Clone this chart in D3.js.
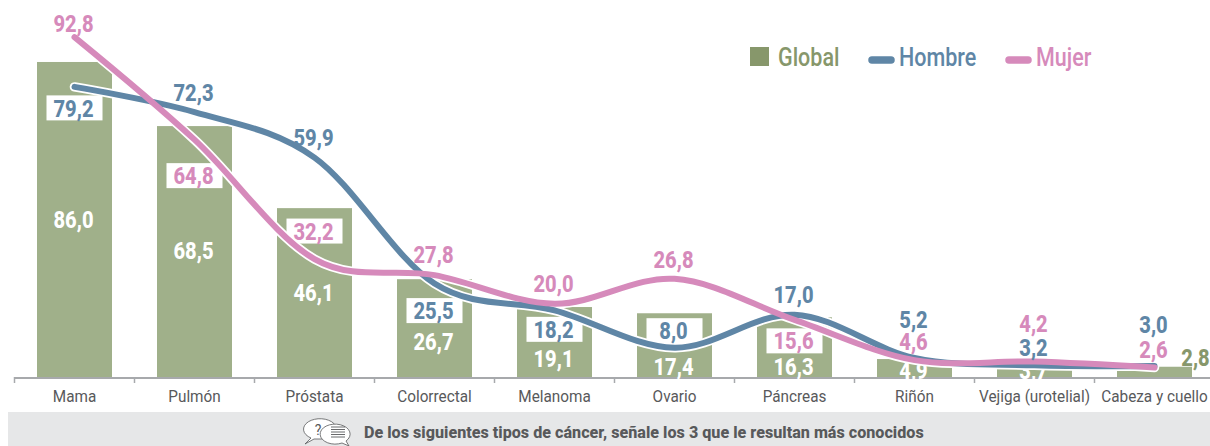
<!DOCTYPE html>
<html><head><meta charset="utf-8">
<script src="https://cdnjs.cloudflare.com/ajax/libs/d3/7.8.5/d3.min.js"></script>
<style>html,body{margin:0;padding:0;background:#fff}svg{display:block}text{font-family:Roboto,sans-serif}</style>
</head><body><svg id="c" width="1210" height="446"></svg>
<script>
const categories=["Mama","Pulmón","Próstata","Colorrectal","Melanoma","Ovario","Páncreas","Riñón","Vejiga (urotelial)","Cabeza y cuello"];
const globalValues=[86.0,68.5,46.1,26.7,19.1,17.4,16.3,4.9,3.7,2.8];
const hombreValues=[79.2,72.3,59.9,25.5,18.2,8.0,17.0,5.2,3.2,3.0];
const mujerValues=[92.8,64.8,32.2,27.8,20.0,26.8,15.6,4.6,4.2,2.6];
const globalLabelDy=[157,124,84,62,51,53,49,11,7,-9];
const hombreLabelDy=[21,-20,-20,27,19,-17,-20,-39,-18,-42];
const mujerLabelDy=[-14,36,-28,-21,-20,-19,21,-19,-38,-18];
const hombreBoxed=[0,3,4,5];
const mujerBoxed=[1,2,6];
const question="De los siguientes tipos de cáncer, señale los 3 que le resultan más conocidos";
const C={bar:"#a0b08a",global:"#87976b",hombre:"#5f86a6",mujer:"#d68abb",axis:"#a7a9ac",text:"#58595b",foot:"#e6e7e8"};

const svg=d3.select("#c");
const x=d3.scaleBand().domain(categories).range([14.5,1214.5]).paddingInner(0.375).paddingOuter(0.1875);
const y=d3.scaleLinear().domain([0,100]).range([377,10.7]);
const cx=c=>x(c)+x.bandwidth()/2;
const fmt=v=>v.toFixed(1).replace(".",",");
// horizontally condense a text to mimic the narrow DIN-like face
function squeeze(sel,f){sel.each(function(){const L=this.getComputedTextLength();d3.select(this).attr("textLength",L*f).attr("lengthAdjust","spacingAndGlyphs");});return sel;}

// footer
svg.append("rect").attr("x",8).attr("y",412).attr("width",1202).attr("height",34).attr("fill",C.foot);
const ic=svg.append("g").attr("fill","#fff").attr("stroke","#58595b").attr("stroke-width",0.8);
ic.append("path").attr("d","M305 444 L311 438 A16.5 10.5 0 1 1 326 439 L314 439 Z");
ic.append("text").attr("x",318).attr("y",435).attr("text-anchor","middle").attr("font-size",14).attr("fill","#58595b").attr("stroke","none").text("?");
ic.append("path").attr("d","M349 446 L342 443 A15 10 0 1 1 346 441 Z");
[-5,-2.5,0,2.5,5].forEach(d=>ic.append("line").attr("x1",331).attr("x2",345).attr("y1",432+d).attr("y2",432+d).attr("stroke-width",0.9));
squeeze(svg.append("text").attr("x",364).attr("y",438).attr("font-size",17).attr("font-weight",800).attr("fill",C.text).text(question),0.95);

// bars
svg.selectAll("rect.bar").data(categories).join("rect").attr("class","bar")
 .attr("x",c=>x(c)).attr("width",x.bandwidth())
 .attr("y",(c,i)=>y(globalValues[i])).attr("height",(c,i)=>y(0)-y(globalValues[i])).attr("fill",C.bar);

// axis
const axis=svg.append("g").attr("transform",`translate(0,${y(0)})`).call(d3.axisBottom(x).tickSize(0).tickPadding(13));
axis.select(".domain").remove();
axis.selectAll("text").attr("font-size",17).attr("fill",C.text).style("font-family","Roboto");
squeeze(axis.selectAll("text"),0.9);
svg.append("line").attr("x1",14).attr("x2",1210).attr("y1",y(0)+1).attr("y2",y(0)+1).attr("stroke",C.axis).attr("stroke-width",2);
svg.selectAll("line.tk").data(categories).join("line").attr("class","tk")
 .attr("x1",c=>x(c)-x.step()*0.1875).attr("x2",c=>x(c)-x.step()*0.1875)
 .attr("y1",y(0)).attr("y2",y(0)+6).attr("stroke",C.axis).attr("stroke-width",1.5);

function labels(vals,dy,color){
 const t=svg.append("g").attr("text-anchor","middle").attr("font-size",24).attr("font-weight",800).attr("fill",color)
  .selectAll("text").data(vals).join("text")
  .attr("x",(v,i)=>cx(categories[i])-1).attr("y",(v,i)=>y(v)+dy[i]).attr("dy","0.36em").text(fmt);
 squeeze(t,0.84);
 return t;
}
// global labels sit under the lines; the last one is outside its bar
labels(globalValues,globalLabelDy,"#fff")
 .filter((v,i)=>i===9).attr("fill",C.global).attr("x",cx(categories[9])+41);

// boxes
function boxes(idx,vals,dy){
 svg.append("g").selectAll("rect").data(idx).join("rect")
  .attr("x",i=>cx(categories[i])-28).attr("width",56)
  .attr("y",i=>y(vals[i])+dy[i]-12.5).attr("height",25).attr("fill","#fff");
}
boxes(hombreBoxed,hombreValues,hombreLabelDy);
boxes(mujerBoxed,mujerValues,mujerLabelDy);

// lines
const line=d3.line().x((v,i)=>cx(categories[i])).y(v=>y(v)).curve(d3.curveCatmullRom.alpha(0));
[hombreValues,mujerValues].forEach(v=>svg.append("path").attr("d",line(v)).attr("fill","none").attr("stroke","#fff").attr("stroke-width",9.5).attr("stroke-linecap","round"));
svg.append("path").attr("d",line(hombreValues)).attr("fill","none").attr("stroke",C.hombre).attr("stroke-width",6).attr("stroke-linecap","round");
svg.append("path").attr("d",line(mujerValues)).attr("fill","none").attr("stroke",C.mujer).attr("stroke-width",6).attr("stroke-linecap","round");

labels(hombreValues,hombreLabelDy,C.hombre);
labels(mujerValues,mujerLabelDy,C.mujer);

// legend
const lg=svg.append("g");
lg.append("rect").attr("x",750).attr("y",47).attr("width",19).attr("height",19).attr("fill",C.global);
[["Hombre",C.hombre,869,899],["Mujer",C.mujer,1006,1036]].forEach(([t,c,a,b])=>{
 lg.append("line").attr("x1",a+3).attr("x2",a+22).attr("y1",60).attr("y2",60).attr("stroke",c).attr("stroke-width",7.5).attr("stroke-linecap","round");
 squeeze(lg.append("text").attr("x",b).attr("y",66).attr("font-size",25).attr("font-weight",500).attr("fill",c).text(t),0.86);
});
squeeze(lg.append("text").attr("x",778).attr("y",66).attr("font-size",25).attr("font-weight",500).attr("fill",C.global).text("Global"),0.86);
</script></body></html>
